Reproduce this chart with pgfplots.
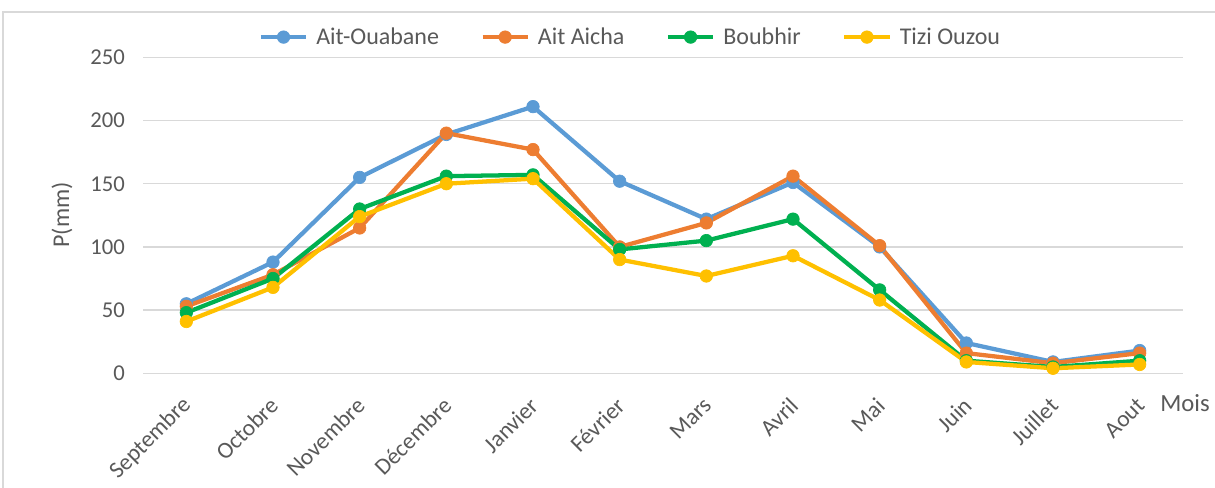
\documentclass[border=0pt]{standalone}
\usepackage{pgfplots}
\pgfplotsset{compat=1.18}
\usepackage{fontspec}
\setmainfont{Carlito}
\definecolor{cblue}{HTML}{5B9BD5}
\definecolor{corange}{HTML}{ED7D31}
\definecolor{cgreen}{HTML}{00B050}
\definecolor{cyellow}{HTML}{FFC000}
\definecolor{gridc}{HTML}{D9D9D9}
\definecolor{textc}{HTML}{595959}
\begin{document}
\begin{tikzpicture}
\useasboundingbox (0pt,0pt) rectangle (911.25pt,366pt);
\draw[gridc, line width=1pt] (2.25pt,0pt) -- (2.25pt,357pt) -- (911.25pt,357pt);
\begin{axis}[
  at={(107.25pt,86pt)}, anchor=south west,
  scale only axis, width=780pt, height=237pt,
  xmin=-0.5, xmax=11.5, ymin=0, ymax=250,
  ytick={0,50,...,250},
  xtick={0,...,11},
  xticklabels={Septembre,Octobre,Novembre,Décembre,Janvier,Février,Mars,Avril,Mai,Juin,Juillet,Aout},
  axis line style={draw=none},
  tick style={draw=none},
  major tick length=0pt,
  ymajorgrids,
  grid style={gridc, line width=1.1pt},
  tick label style={font=\fontsize{17.5}{20}\selectfont, text=textc},
  yticklabel style={font=\fontsize{17}{20}\selectfont, xshift=-10pt},
  /pgf/number format/assume math mode=true,
  xticklabel style={rotate=45, anchor=east, xshift=-11pt, yshift=-15.6pt},
  clip=false,
  every axis plot/.append style={line width=3.2pt, mark=*, mark size=4.7pt, mark options={solid, line width=0.5pt}},
  legend columns=4,
  legend style={at={(0.469,1.064)}, anchor=center, draw=none, fill=none,
    font=\fontsize{18}{21}\selectfont, text=textc,
    /tikz/every even column/.append style={column sep=29pt},
    /tikz/every odd column/.append style={column sep=4pt}},
  legend cell align=left,
  legend image code/.code={\draw[mark repeat=2, mark phase=2, #1] plot coordinates {(0pt,0pt) (17pt,0pt) (34pt,0pt)};},
]
\addplot[color=cblue] coordinates {(0,55) (1,88) (2,155) (3,189) (4,211) (5,152) (6,122) (7,151) (8,100) (9,24) (10,9) (11,18)};
\addlegendentry{Ait-Ouabane}
\addplot[color=corange] coordinates {(0,53) (1,78) (2,115) (3,190) (4,177) (5,100) (6,119) (7,156) (8,101) (9,16) (10,8) (11,16)};
\addlegendentry{Ait Aicha}
\addplot[color=cgreen] coordinates {(0,48) (1,75) (2,130) (3,156) (4,157) (5,98) (6,105) (7,122) (8,66) (9,10) (10,5) (11,10)};
\addlegendentry{Boubhir}
\addplot[color=cyellow] coordinates {(0,41) (1,68) (2,124) (3,150) (4,154) (5,90) (6,77) (7,93) (8,58) (9,9) (10,4) (11,7)};
\addlegendentry{Tizi Ouzou}
\end{axis}
\node[rotate=90, text=textc, font=\fontsize{18}{21}\selectfont] at (46.5pt,204.75pt) {P(mm)};
\node[text=textc, font=\fontsize{18.5}{22}\selectfont] at (888.75pt,63.75pt) {Mois};
\end{tikzpicture}
\end{document}
